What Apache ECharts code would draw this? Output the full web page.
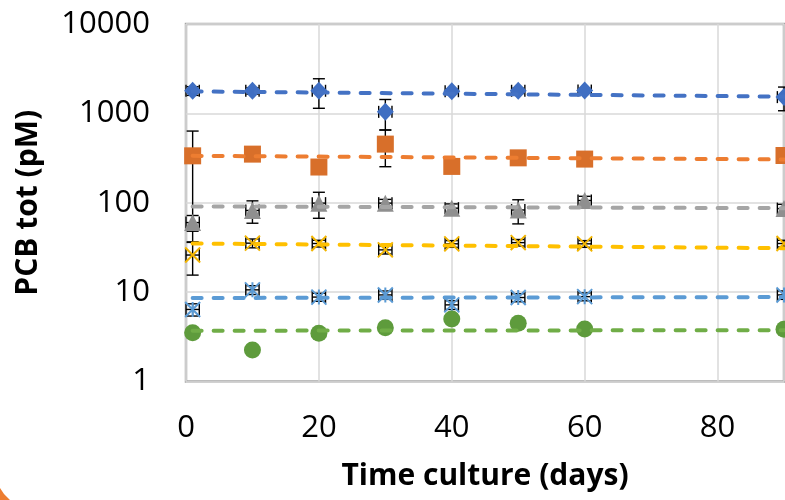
<!DOCTYPE html>
<html>
<head>
<meta charset="utf-8">
<script src="https://cdn.jsdelivr.net/npm/echarts@6/dist/echarts.min.js"></script>
<style>
html,body{margin:0;padding:0;background:#fff;}
#chart{width:785px;height:500px;}
</style>
</head>
<body>
<div id="chart"></div>
<script>
// ---- data ----
const days = [1, 10, 20, 30, 40, 50, 60, 90];
const xTickLabels = ['0', '20', '40', '60', '80'];
const yTickLabels = ['1', '10', '100', '1000', '10000'];

const blueVals      = [1790, 1790, 1790, 1040, 1770, 1790, 1800, 1520];
const blueErr       = [200, 150, 650, 390, 100, 120, 100, 450];
const orangeVals    = [335, 350, 251, 453, 255, 318, 308, 338];
const orangeErr     = [299, 30, 20, 200, 15, 20, 20, 30];
const grayVals      = [60, 82, 99, 99, 87, 83, 106, 86];
const grayErr       = [12, 23, 32, 10, 10, 25, 12, 10];
const yellowVals    = [26, 35.3, 35, 29.7, 34.7, 35.8, 34.7, 35];
const yellowErr     = [10.5, 4, 3, 3, 3, 3, 3, 3];
const lightBlueVals = [6.4, 10.6, 8.8, 9.3, 7.2, 8.7, 8.9, 9.3];
const lightBlueErr  = [1, 1.2, 0.9, 1, 0.8, 0.9, 0.9, 1];
const greenVals     = [3.52, 2.25, 3.47, 4.0, 5.0, 4.49, 3.87, 3.85];
const xErrDays      = 1;

// trend line end points [day, value]
const trendDays      = [1, 90];
const blueTrend      = [1760, 1540];
const orangeTrend    = [335, 305];
const grayTrend      = [91, 87];
const yellowTrend    = [35, 31];
const lightBlueTrend = [8.6, 8.8];
const greenTrend     = [3.7, 3.75];

const xAxisTitle = 'Time culture (days)';
const yAxisTitle = 'PCB tot (pM)';

// ---- styles ----
const FONT = '"Open Sans", "Liberation Sans", sans-serif';

function pairs(xs, ys) { return xs.map((x, i) => [x, ys[i]]); }
function errData(vals, errs) { return days.map((d, i) => [d, vals[i], errs[i], xErrDays]); }

function renderErr(params, api) {
  const x = api.value(0), y = api.value(1), e = api.value(2), xe = api.value(3);
  const c = api.coord([x, y]);
  const t = api.coord([x, y + e]);
  const b = api.coord([x, Math.max(y - e, 0.0001)]);
  const l = api.coord([x - xe, y]);
  const r = api.coord([x + xe, y]);
  const h = 6;
  const st = { stroke: '#000', lineWidth: 1.4 };
  const ln = (x1, y1, x2, y2) => ({ type: 'line', shape: { x1, y1, x2, y2 }, style: st });
  return {
    type: 'group',
    children: [
      ln(c[0], t[1], c[0], b[1]),
      ln(c[0] - h, t[1], c[0] + h, t[1]),
      ln(c[0] - h, b[1], c[0] + h, b[1]),
      ln(l[0], c[1], r[0], c[1]),
      ln(l[0], c[1] - h, l[0], c[1] + h),
      ln(r[0], c[1] - h, r[0], c[1] + h)
    ]
  };
}

function errSeries(vals, errs) {
  return {
    type: 'custom', renderItem: renderErr, data: errData(vals, errs),
    zlevel: 1, z: 1, clip: false, silent: true
  };
}
function markSeries(name, vals, symbol, size, itemStyle) {
  return {
    name, type: 'scatter', data: pairs(days, vals), symbol, symbolSize: size,
    itemStyle: Object.assign({ opacity: 1 }, itemStyle), zlevel: 2, z: 2, silent: true
  };
}
function trendSeries(name, vals, color) {
  return {
    name: name + ' trend', type: 'line', data: pairs(trendDays, vals), symbol: 'none',
    lineStyle: { color, width: 4, type: [9, 12], cap: 'round' }, zlevel: 3, z: 3, silent: true
  };
}

const X_PATH = 'path://M0,0L10,10M10,0L0,10';
const STAR_PATH = 'path://M0,0L10,10M10,0L0,10M5,0L5,10';

const chart = echarts.init(document.getElementById('chart'), null, { renderer: 'canvas' });
chart.setOption({
  animation: false,
  backgroundColor: '#fff',
  grid: {
    left: 186, top: 24, right: 1, bottom: 118.5, show: true,
    borderColor: '#A6A6A6', borderWidth: 2.5, backgroundColor: 'transparent'
  },
  xAxis: {
    type: 'value', min: 0, max: 90, interval: 20,
    name: xAxisTitle, nameLocation: 'middle', nameGap: 80,
    nameTextStyle: { fontFamily: FONT, fontSize: 30, fontWeight: 'bold', color: '#000' },
    axisLine: { show: false }, axisTick: { show: false },
    axisLabel: {
      fontFamily: FONT, fontSize: 31, color: '#000', margin: 31, showMaxLabel: false,
      formatter: (v) => xTickLabels.includes(String(v)) ? String(v) : ''
    },
    splitLine: { show: true, lineStyle: { color: '#D9D9D9', width: 1.5 } }
  },
  yAxis: {
    type: 'log', logBase: 10, min: 1, max: 10000,
    name: yAxisTitle, nameLocation: 'middle', nameGap: 143, nameRotate: 90,
    nameTextStyle: { fontFamily: FONT, fontSize: 30, fontWeight: 'bold', color: '#000' },
    axisLine: { show: false }, axisTick: { show: false },
    axisLabel: {
      fontFamily: FONT, fontSize: 31, color: '#000', margin: 36,
      formatter: (v) => yTickLabels.includes(String(v)) ? String(v) : ''
    },
    splitLine: { show: true, lineStyle: { color: '#D9D9D9', width: 1.5 } }
  },
  graphic: [{
    type: 'polygon', shape: { points: [[0, 488], [4, 494], [10, 500], [0, 500]] },
    style: { fill: '#ED7D31' }, silent: true
  }],
  series: [
    errSeries(blueVals, blueErr),
    errSeries(orangeVals, orangeErr),
    errSeries(grayVals, grayErr),
    errSeries(yellowVals, yellowErr),
    errSeries(lightBlueVals, lightBlueErr),
    markSeries('Series 1', blueVals, 'diamond', [17, 18], { color: '#3F6EC2' }),
    markSeries('Series 2', orangeVals, 'rect', 17, { color: '#D86F2A' }),
    markSeries('Series 3', grayVals, 'triangle', 17, { color: '#8F8F8F' }),
    markSeries('Series 4', yellowVals, X_PATH, 15, { color: 'none', borderColor: '#F2B500', borderWidth: 2 }),
    markSeries('Series 5', lightBlueVals, STAR_PATH, 15, { color: 'none', borderColor: '#5B9BD5', borderWidth: 2 }),
    markSeries('Series 6', greenVals, 'circle', 17, { color: '#5E9B3C' }),
    trendSeries('Series 1', blueTrend, '#4472C4'),
    trendSeries('Series 2', orangeTrend, '#ED7D31'),
    trendSeries('Series 3', grayTrend, '#A5A5A5'),
    trendSeries('Series 4', yellowTrend, '#FFC000'),
    trendSeries('Series 5', lightBlueTrend, '#5B9BD5'),
    trendSeries('Series 6', greenTrend, '#70AD47')
  ]
});
</script>
</body>
</html>
